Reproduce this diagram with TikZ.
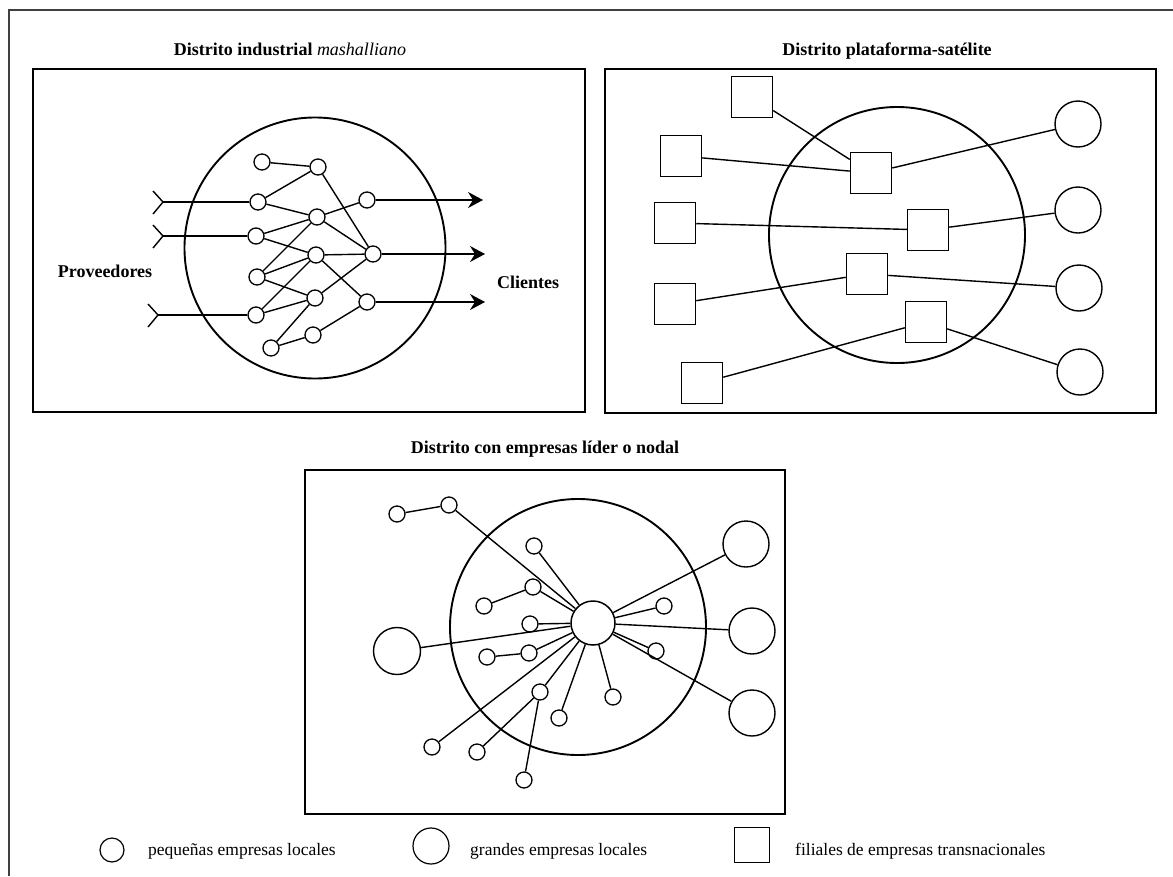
\documentclass[tikz,border=0pt]{standalone}
\usepackage{fontspec}
\setmainfont{Liberation Serif}
\usetikzlibrary{arrows.meta}
\begin{document}
\begin{tikzpicture}[x=1pt,y=-1pt,
  frame/.style={draw=black!75, line width=2.2pt},
  panel/.style={draw=black, line width=1.8pt},
  district/.style={draw=black, line width=1.9pt},
  link/.style={draw=black, line width=1.4pt},
  sm/.style={circle, draw=black, line width=1.3pt, minimum size=16pt, inner sep=0pt, fill=white},
  big/.style={circle, draw=black, line width=1.4pt, minimum size=46pt, inner sep=0pt, fill=white},
  hubnode/.style={circle, draw=black, line width=1.5pt, minimum size=44pt, inner sep=0pt, fill=white},
  sq/.style={rectangle, draw=black, line width=1.5pt, minimum size=41pt, inner sep=0pt, fill=white},
  title/.style={font=\fontsize{18}{21}\selectfont\bfseries, anchor=base, inner sep=0pt},
  lbl/.style={font=\fontsize{18}{20}\selectfont\bfseries, anchor=base, inner sep=0pt},
  leg/.style={font=\fontsize{17.5}{20}\selectfont, anchor=base west, inner sep=0pt},
  outarrow/.style={link, -{Stealth[length=15pt,width=16pt,inset=5pt]}}
]
\useasboundingbox[fill=white] (0,0) rectangle (1173,876);
% outer frame
\draw[frame] (1173,10) -- (9,10) -- (9,876);

% ---------------- Panel 1 ----------------
\node[title] (t1) at (290,55) {Distrito industrial \textit{\mdseries mashalliano}};
\draw[panel] (33,69) rectangle (585,412);
\node[circle, district, minimum size=261pt, inner sep=0pt] (D1) at (315,248) {};

\node[sm] (a1) at (262,162) {};
\node[sm] (a2) at (318,167) {};
\node[sm] (b1) at (258,202) {};
\node[sm] (c1) at (367,200) {};
\node[sm] (b2) at (317,217) {};
\node[sm] (b3) at (256,236) {};
\node[sm] (b4) at (316,255) {};
\node[sm] (c2) at (373,254) {};
\node[sm] (b5) at (257,277) {};
\node[sm] (b6) at (315,298) {};
\node[sm] (c3) at (367,302) {};
\node[sm] (b7) at (256,315) {};
\node[sm] (b8) at (313,335) {};
\node[sm] (b9) at (271,348) {};

\draw[link] (a1) -- (a2);
\draw[link] (a2) -- (b1);
\draw[link] (a2) -- (c2);
\draw[link] (b1) -- (b2);
\draw[link] (b2) -- (c1);
\draw[link] (b3) -- (b2);
\draw[link] (b3) -- (b4);
\draw[link] (b2) -- (c2);
\draw[link] (b5) -- (b2);
\draw[link] (b5) -- (b4);
\draw[link] (b5) -- (b6);
\draw[link] (b7) -- (b4);
\draw[link] (b7) -- (b6);
\draw[link] (b4) -- (c2);
\draw[link] (b4) -- (c3);
\draw[link] (b6) -- (c2);
\draw[link] (b6) -- (b9);
\draw[link] (b9) -- (b8);
\draw[link] (b8) -- (c3);

% inputs (forks)
\coordinate (f1) at (163,202);
\coordinate (f1a) at (153,191);
\coordinate (f1b) at (153,214);
\coordinate (f2) at (163,236);
\coordinate (f2a) at (153,225);
\coordinate (f2b) at (153,248);
\coordinate (f3) at (158,315);
\coordinate (f3a) at (148,304);
\coordinate (f3b) at (148,327);
\draw[link] (f1a) -- (f1) -- (f1b);
\draw[link] (f2a) -- (f2) -- (f2b);
\draw[link] (f3a) -- (f3) -- (f3b);
\draw[link] (f1) -- (b1);
\draw[link] (f2) -- (b3);
\draw[link] (f3) -- (b7);

% outputs
\coordinate (e1) at (483,200);
\coordinate (e2) at (485,254);
\coordinate (e3) at (485,302);
\draw[outarrow] (c1) -- (e1);
\draw[outarrow] (c2) -- (e2);
\draw[outarrow] (c3) -- (e3);

\node[lbl] (prov) at (105,277) {Proveedores};
\node[lbl] (cli) at (528,288) {Clientes};

% ---------------- Panel 2 ----------------
\node[title] (t2) at (887,55) {Distrito plataforma-satélite};
\draw[panel] (605,69) rectangle (1156,413);
\node[circle, district, minimum size=256pt, inner sep=0pt] (D2) at (897,235) {};

\node[sq] (s1) at (752,97) {};
\node[sq] (s2) at (681,156) {};
\node[sq] (s3) at (675,223) {};
\node[sq] (s4) at (675,304) {};
\node[sq] (s5) at (702,383) {};
\node[sq] (q1) at (871,173) {};
\node[sq] (q2) at (928,230) {};
\node[sq] (q3) at (867,274) {};
\node[sq] (q4) at (926,322) {};
\node[big] (g1) at (1078,124) {};
\node[big] (g2) at (1078,210) {};
\node[big] (g3) at (1079,288) {};
\node[big] (g4) at (1080,372) {};

\draw[link] (s1) -- (q1);
\draw[link] (s2) -- (q1);
\draw[link] (q1) -- (g1);
\draw[link] (s3) -- (q2);
\draw[link] (q2) -- (g2);
\draw[link] (s4) -- (q3);
\draw[link] (q3) -- (g3);
\draw[link] (s5) -- (q4);
\draw[link] (q4) -- (g4);

% ---------------- Panel 3 ----------------
\node[title] (t3) at (545,453) {Distrito con empresas líder o nodal};
\draw[panel] (305,470) rectangle (785,814);
\node[circle, district, minimum size=256pt, inner sep=0pt] (D3) at (578,627) {};

\node[hubnode] (hub) at (593,623) {};
\node[sm] (p1) at (397,514) {};
\node[sm] (p2) at (449,505) {};
\node[sm] (p3) at (534,546) {};
\node[sm] (p4) at (533,587) {};
\node[sm] (p5) at (484,606) {};
\node[sm] (p6) at (530,624) {};
\node[sm] (p7) at (487,657) {};
\node[sm] (p8) at (529,653) {};
\node[sm] (p9) at (540,692) {};
\node[sm] (p10) at (432,747) {};
\node[sm] (p11) at (477,752) {};
\node[sm] (p12) at (524,780) {};
\node[sm] (p13) at (559,718) {};
\node[sm] (p14) at (613,697) {};
\node[sm] (p15) at (664,606) {};
\node[sm] (p16) at (656,651) {};
\node[big, minimum size=47pt] (L) at (397,651) {};
\node[big] (R1) at (746,544) {};
\node[big] (R2) at (752,631) {};
\node[big] (R3) at (752,713) {};

\draw[link] (p1) -- (p2);
\draw[link] (p2) -- (hub);
\draw[link] (p3) -- (hub);
\draw[link] (p5) -- (p4);
\draw[link] (p4) -- (hub);
\draw[link] (p6) -- (hub);
\draw[link] (L) -- (hub);
\draw[link] (p7) -- (p8);
\draw[link] (p8) -- (hub);
\draw[link] (p10) -- (hub);
\draw[link] (p9) -- (hub);
\draw[link] (p11) -- (p9);
\draw[link] (p12) -- (p9);
\draw[link] (p13) -- (hub);
\draw[link] (p14) -- (hub);
\draw[link] (p15) -- (hub);
\draw[link] (p16) -- (hub);
\draw[link] (R1) -- (hub);
\draw[link] (R2) -- (hub);
\draw[link] (R3) -- (hub);

% ---------------- Legend ----------------
\node[circle, draw=black, line width=1.2pt, minimum size=24pt, inner sep=0pt] (ls) at (112,850) {};
\node[leg] (lst) at (148,855) {pequeñas empresas locales};
\node[circle, draw=black, line width=1.2pt, minimum size=36pt, inner sep=0pt] (lb) at (431,846) {};
\node[leg] (lbt) at (470,855) {grandes empresas locales};
\node[rectangle, draw=black, line width=1.2pt, minimum size=35pt, inner sep=0pt] (lq) at (752,845) {};
\node[leg] (lqt) at (795,855) {filiales de empresas transnacionales};
\end{tikzpicture}
\end{document}
